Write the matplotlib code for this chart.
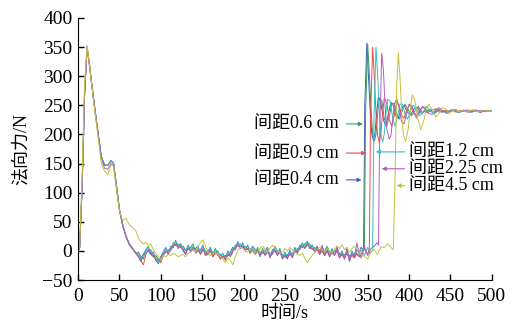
import numpy as np
import matplotlib
matplotlib.use("Agg")
import matplotlib.pyplot as plt

plt.rcParams['font.family'] = ['Liberation Serif', 'Noto Sans CJK SC']
plt.rcParams['axes.unicode_minus'] = True

# ---------------- data ----------------
t_early = [0, 2, 5, 8, 11, 14, 17, 20, 24, 28, 32, 36, 40, 43, 46, 50, 54, 58, 62, 66, 70]
t_noise = list(np.arange(73, 341, 3))

early_main = [0, 5, 110, 270, 350, 318, 282, 248, 205, 163, 147, 147, 155, 150, 118, 72, 45, 25, 12, 4, -4]
early_purple = [0, 5, 112, 272, 348, 316, 280, 246, 203, 160, 142, 140, 150, 146, 112, 70, 42, 24, 10, 3, -5]
early_olive = [0, 8, 130, 290, 352, 318, 280, 244, 198, 152, 137, 131, 148, 145, 112, 70, 52, 56, 45, 40, 34]

noise_blue = [-10, -18, -6, 2, 0, -6, -2, -16, -22, -10,
              -2, 6, -6, 8, 6, 18, 4, 12, 0, -6,
              10, -2, 4, 4, 8, -6, 2, 0, -6, 6,
              -10, 4, -8, -6, -12, -8, -8, -2, 6, 2,
              16, 4, 14, 0, 10, -4, 8, 2, -2, -2,
              -4, 0, 6, -12, 2, 0, -8, 4, -14, -2,
              -14, 2, -12, 6, -4, 10, 6, 12, 16, 4,
              10, -2, 8, -6, 6, -8, 0, -10, 4, -8,
              6, -12, 0, -14, 2, -18, 0, -12, 2, -2]
noise_green = [-2, -10, -14, 2, 8, -6, -10, -8, -14, -18,
               -8, -2, 2, 0, 14, 10, 12, 6, 8, 2,
               2, 6, 12, -4, 0, 2, 10, -8, 2, -2,
               -2, -4, 0, -14, -4, -16, 0, -10, -2, 10,
               8, 12, 6, 8, 2, 4, 0, -6, 6, -10,
               4, -8, -2, -4, -6, 8, 0, -4, -6, -10,
               -6, -6, -4, -2, 4, 2, 14, 4, 10, 12,
               2, 6, 0, 2, -2, 0, 8, -2, -4, 0,
               -2, -4, -8, -6, -6, -8, -8, -4, -6, -10]
noise_red = [-8, -16, -24, -6, 2, 2, -10, -14, -16, -20,
             -6, 0, -4, 2, 8, 12, 10, 6, 2, -4,
             4, 0, 6, -2, 2, -6, 4, -8, -6, 0,
             -10, -4, -6, -14, -10, -14, -8, -8, 0, 4,
             10, 6, 8, 2, 4, -4, 2, -6, 0, -8,
             -2, -6, 0, -10, -4, 2, -6, -2, -12, -10,
             -12, -6, -10, 0, -2, 4, 8, 6, 12, 6,
             4, 0, 2, -6, 0, -8, 2, -8, -4, -6,
             0, -12, -6, -12, -4, -14, -8, -12, -4, -10]
noise_cyan = [-4, -12, -8, 2, 6, 0, -4, -10, -20, -12,
              -2, 4, 0, 6, 12, 16, 10, 12, 6, 0,
              8, 4, 10, 2, 6, 0, 8, -2, 0, 4,
              -4, 2, -2, -8, -6, -10, -2, -4, 4, 8,
              14, 10, 12, 6, 8, 2, 6, 0, 4, -4,
              2, -2, 4, -6, 0, 6, -2, 2, -8, -4,
              -8, 0, -6, 4, 2, 8, 12, 10, 16, 10,
              8, 4, 6, 0, 4, -2, 6, -4, 2, -2,
              4, -6, -2, -8, 0, -10, -2, -6, 0, -4]
noise_purple = [-10, -12, -6, -4, 2, -4, -8, -14, -16, -12,
                -6, 0, -4, 2, 8, 10, 6, 8, 2, -4,
                4, 0, 6, -2, 2, -4, 4, -6, -4, 0,
                -8, -2, -6, -12, -10, -10, -6, -8, 0, 4,
                10, 6, 8, 2, 4, -2, 2, -4, 0, -8,
                -2, -6, 0, -10, -4, 2, -6, -2, -12, -8,
                -8, -4, -10, 0, -2, 4, 8, 6, 12, 6,
                4, 0, 8, -4, 10, -6, 2, -8, -2, -8,
                8, -10, -6, -14, 6, -16, -6, -10, 14, -8]
noise_olive = [22, 16, 12, 15, 10, 12, 2, -4, -10, -16,
               -8, -10, -6, -8, -4, -6, -10, -8, -6, -10,
               -4, -2, 2, -2, 8, 14, 19, 8, -2, -8,
               -6, -2, -6, -10, -14, -20, -12, -16, -24, -10,
               0, 6, 4, 0, -2, 4, 0, -6, -2, 4,
               8, 2, -2, 4, 10, 6, 0, -4, -2, 4,
               0, 6, 2, -2, -6, -8, -4, -12, -20, -14,
               -8, -2, 2, 6, 2, -2, 4, 0, -4, 3,
               8, 4, 10, 2, 6, -2, 4, 8, 2, -2]

tail_t_blue = [342, 345, 346.5, 349, 351, 353, 355, 357, 359, 361, 363, 366, 369, 372, 375, 378, 381, 384, 387, 390,
               394, 398, 402, 406, 410, 415, 420, 425, 430, 435, 440, 445, 450, 455, 460, 465, 470, 475, 480, 485,
               490, 495, 500]
tail_v_blue = [6, 2, 250, 357, 300, 240, 200, 190, 205, 240, 265, 255, 225, 215, 235, 255, 250, 232, 228, 242,
               250, 238, 234, 244, 246, 236, 242, 240, 237, 243, 238, 241, 239, 242, 238, 241, 240, 238, 242, 239,
               241, 240, 240]

tail_t_green = [342, 346, 347.5, 350, 352, 354, 356, 358, 360, 362, 364, 367, 370, 373, 376, 379, 382, 385, 388, 391,
                395, 399, 403, 407, 411, 416, 421, 426, 431, 436, 441, 446, 451, 456, 461, 466, 471, 476, 481, 486,
                491, 496, 500]
tail_v_green = [-6, 4, 240, 355, 305, 245, 202, 188, 200, 235, 262, 258, 228, 214, 230, 252, 254, 236, 226, 238,
                252, 242, 232, 240, 248, 238, 240, 243, 236, 242, 240, 238, 242, 240, 238, 242, 239, 241, 240, 238,
                241, 240, 240]

tail_t_red = [342, 346, 350, 352, 353.5, 356, 358, 360, 362, 364, 366, 368, 370, 373, 376, 379, 382, 385, 388, 391,
              394, 397, 401, 405, 409, 413, 417, 422, 427, 432, 437, 442, 447, 452, 457, 462, 467, 472, 477, 482,
              487, 492, 497, 500]
tail_v_red = [-8, 4, -6, 3, 230, 350, 300, 238, 198, 186, 202, 238, 262, 255, 226, 214, 232, 254, 250, 232,
              228, 242, 251, 240, 232, 242, 247, 237, 241, 244, 238, 241, 239, 242, 238, 241, 240, 238, 242, 240,
              238, 241, 240, 240]

tail_t_cyan = [342, 346, 350, 353, 356, 357.5, 360, 362, 364, 366, 368, 370, 372, 374, 377, 380, 383, 386, 389, 392,
               395, 398, 401, 405, 409, 413, 417, 421, 426, 431, 436, 441, 446, 451, 456, 461, 466, 471, 476, 481,
               486, 491, 496, 500]
tail_v_cyan = [2, -8, 6, -4, 2, 220, 350, 302, 240, 200, 187, 200, 235, 260, 258, 230, 214, 230, 252, 252,
               236, 226, 238, 250, 244, 232, 238, 248, 240, 236, 243, 240, 237, 242, 240, 238, 241, 240, 238, 242,
               239, 240, 241, 240]

tail_t_purple = [342, 346, 350, 354, 358, 361, 363, 364.5, 367, 369, 371, 373, 376, 378, 380, 382, 385, 388, 391, 394,
                 397, 400, 403, 406, 409, 412, 416, 420, 424, 428, 432, 436, 441, 446, 451, 456, 461, 466, 471, 476,
                 481, 486, 491, 496, 500]
tail_v_purple = [-12, 8, -8, 4, 8, 14, 10, 200, 340, 310, 250, 210, 192, 198, 222, 250, 262, 246, 222, 218,
                 236, 252, 250, 236, 228, 236, 248, 246, 236, 234, 242, 246, 240, 236, 241, 243, 239, 240, 242, 239,
                 240, 241, 239, 240, 240]

tail_t_olive = [342, 346, 350, 354, 358, 362, 366, 370, 374, 378, 381, 383, 385, 387, 389, 391, 393, 396, 399, 402,
                404, 407, 410, 414, 418, 421, 424, 428, 432, 436, 440, 444, 448, 452, 456, 460, 465, 470, 475, 480,
                485, 490, 495, 500]
tail_v_olive = [-6, -10, -14, -2, 2, -6, 7, 6, 12, 6, 2, 120, 280, 340, 300, 240, 200, 188, 210, 250,
                268, 258, 230, 208, 225, 245, 252, 242, 230, 236, 246, 244, 236, 240, 243, 239, 241, 238, 242, 240,
                239, 241, 240, 240]

labels = ['间距0.4 cm', '间距0.6 cm', '间距0.9 cm', '间距1.2 cm', '间距2.25 cm', '间距4.5 cm']
colors = ['#3a62c0', '#3a9a5a', '#f04a4a', '#2ec4c0', '#b45cc8', '#c8c03c']

series = [
    (early_main, noise_blue, tail_t_blue, tail_v_blue),
    (early_main, noise_green, tail_t_green, tail_v_green),
    (early_main, noise_red, tail_t_red, tail_v_red),
    (early_main, noise_cyan, tail_t_cyan, tail_v_cyan),
    (early_purple, noise_purple, tail_t_purple, tail_v_purple),
    (early_olive, noise_olive, tail_t_olive, tail_v_olive),
]

# ---------------- figure ----------------
fig = plt.figure(figsize=(5.21, 3.26), dpi=100)
ax = fig.add_axes([0.1497, 0.141, 0.7943, 0.804])

for (e, n, tt, tv), c in zip(series, colors):
    t = list(t_early) + list(t_noise) + list(tt)
    v = list(e) + list(n) + list(tv)
    ax.plot(t, v, color=c, lw=0.7)

ax.set_xlim(0, 500)
ax.set_ylim(-50, 400)
ax.set_xticks(np.arange(0, 501, 50))
ax.set_yticks(np.arange(-50, 401, 50))
ax.spines['top'].set_visible(False)
ax.spines['right'].set_visible(False)
ax.tick_params(direction='in', labelsize=14, length=4, width=1)
ax.tick_params(axis='x', pad=6)
ax.tick_params(axis='y', pad=4)
ax.set_xlabel('时间/s', fontsize=13, labelpad=0)
ax.set_ylabel('法向力/N', fontsize=13, labelpad=9)

# annotations
ann_left = [  # (label idx, text y, arrow end x)
    (1, 218, 347.5),
    (2, 168, 351.5),
    (0, 122, 346),
]
for i, y, xe in ann_left:
    ax.annotate('', xy=(xe, y), xytext=(321, y),
                arrowprops=dict(arrowstyle='-|>', color=colors[i], lw=0.8, mutation_scale=6))
    ax.text(315, y, labels[i], ha='right', va='center', fontsize=13)

ann_right = [
    (3, 170, 356.5),
    (4, 141, 363.5),
    (5, 112, 381.5),
]
for i, y, xe in ann_right:
    ax.annotate('', xy=(xe, y), xytext=(398, y),
                arrowprops=dict(arrowstyle='-|>', color=colors[i], lw=0.8, mutation_scale=6))
    ax.text(400, y, labels[i], ha='left', va='center', fontsize=13)

fig.savefig('out.png', dpi=100)
